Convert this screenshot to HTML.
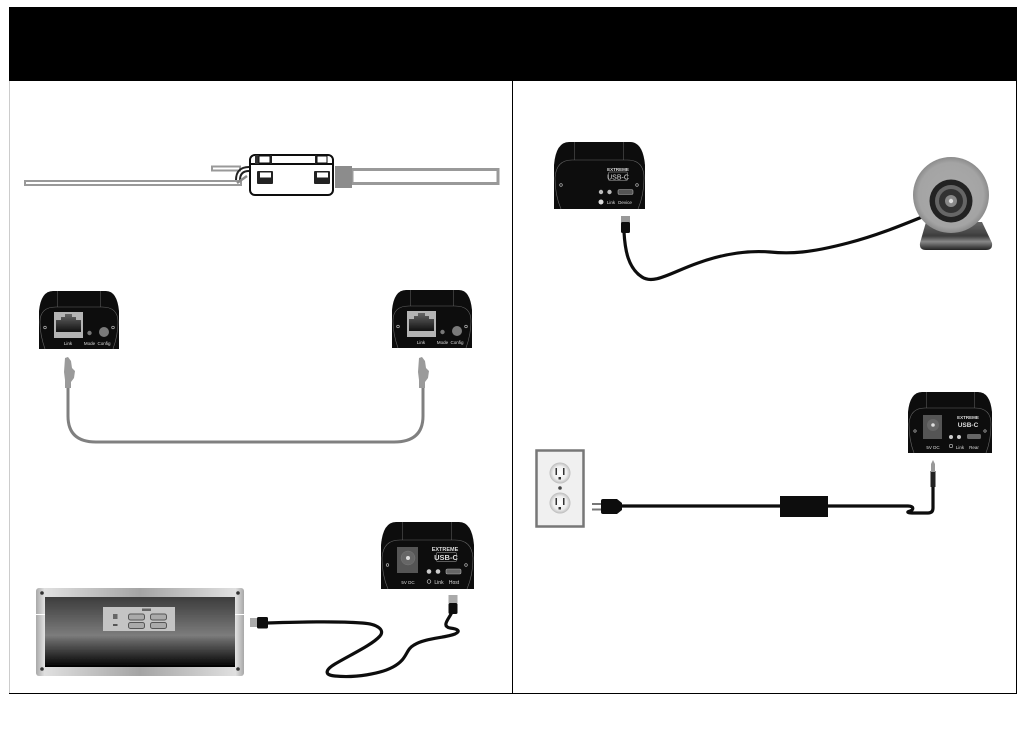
<!DOCTYPE html>
<html>
<head>
<meta charset="utf-8">
<style>
html,body{margin:0;padding:0;background:#fff;width:1026px;height:738px;overflow:hidden}
svg{display:block}
text{font-family:"Liberation Sans",sans-serif;fill:#ddd;text-anchor:middle}
</style>
</head>
<body>
<svg width="1026" height="738" viewBox="0 0 1026 738" xmlns="http://www.w3.org/2000/svg">
<defs>
<filter id="soft" x="0" y="0" width="100%" height="100%"><feGaussianBlur stdDeviation="0.35"/></filter>
<linearGradient id="srv" x1="0" y1="0" x2="0" y2="1">
<stop offset="0" stop-color="#3c3c3c"/><stop offset=".55" stop-color="#7c7c7c"/><stop offset=".62" stop-color="#666"/><stop offset="1" stop-color="#000"/>
</linearGradient>
<linearGradient id="frame" x1="0" y1="0" x2="1" y2="0">
<stop offset="0" stop-color="#a8a8a8"/><stop offset=".04" stop-color="#e0e0e0"/><stop offset=".5" stop-color="#a4a4a4"/><stop offset=".96" stop-color="#e0e0e0"/><stop offset="1" stop-color="#a8a8a8"/>
</linearGradient>
<linearGradient id="base" x1="0" y1="0" x2="0" y2="1">
<stop offset="0" stop-color="#666"/><stop offset=".5" stop-color="#3c3c3c"/><stop offset=".7" stop-color="#888"/><stop offset="1" stop-color="#222"/>
</linearGradient>
<radialGradient id="ball" cx=".5" cy=".5" r=".5">
<stop offset="0" stop-color="#aaa"/><stop offset=".85" stop-color="#a4a4a4"/><stop offset="1" stop-color="#8c8c8c"/>
</radialGradient>
<radialGradient id="sock" cx=".5" cy=".5" r=".5">
<stop offset="0" stop-color="#fff"/><stop offset=".65" stop-color="#eee"/><stop offset="1" stop-color="#bbb"/>
</radialGradient>
<linearGradient id="rj" x1="0" y1="0" x2="0" y2="1">
<stop offset="0" stop-color="#666"/><stop offset="1" stop-color="#111"/>
</linearGradient>
</defs>

<g filter="url(#soft)">
<!-- header and frame -->
<rect x="9" y="7" width="1008" height="74" fill="#000"/>
<rect x="9" y="81" width="1" height="612" fill="#ccc"/>
<rect x="9" y="693" width="1008" height="1" fill="#000"/>
<rect x="512" y="81" width="1" height="612" fill="#000"/>
<rect x="1016" y="81" width="1" height="612" fill="#000"/>

<!-- ferrite -->
<rect x="25" y="181" width="216" height="4" fill="#fff" stroke="#999" stroke-width="2"/>
<rect x="212" y="166.500" width="28" height="4" fill="#fff" stroke="#999" stroke-width="2"/>
<rect x="352" y="169.500" width="146" height="14" fill="#fff" stroke="#999" stroke-width="3"/>
<rect x="335" y="166" width="17" height="22" fill="#8c8c8c"/>
<path d="M249 167C240 167 236 172 236 180M249 171C243 171 240 174 240 180" fill="none" stroke="#222" stroke-width="2"/>
<path d="M237 183L247 176" stroke="#888" stroke-width="2.500"/>
<rect x="250" y="155" width="83" height="40" rx="5" fill="#fff" stroke="#111" stroke-width="2"/>
<line x1="250" y1="164" x2="333" y2="164" stroke="#111" stroke-width="2"/>
<rect x="255" y="155" width="4" height="9" fill="#333"/>
<rect x="259" y="156" width="11" height="7" fill="#fff" stroke="#111"/>
<rect x="270" y="155" width="2" height="9" fill="#222"/>
<rect x="315" y="155" width="2" height="9" fill="#222"/>
<rect x="317" y="156" width="10" height="7" fill="#fff" stroke="#111"/>
<rect x="257" y="171" width="16" height="13" rx="1" fill="#222"/>
<rect x="260" y="172.500" width="11" height="5" fill="#fff"/>
<rect x="314" y="171" width="16" height="13" rx="1" fill="#222"/>
<rect x="317" y="172.500" width="11" height="5" fill="#fff"/>

<!-- RJ45 cable -->
<path d="M68 386V416Q68 442 96 442H394Q423 442 423 416V386" fill="none" stroke="#808080" stroke-width="3"/>
<g fill="#9a9a9a">
<path d="M65 358L68 357L71 361L72 368L75 371L74 378L71 382L71 388H65V380L64 372Z"/>
<path d="M419 358L422 357L425 361L426 368L429 371L428 378L425 382L425 388H419V380L418 372Z"/>
</g>

<!-- RJ45 device left -->
<g>
<path d="M39 349V311Q41 291 53 291H106Q117 291 119 311V349Z" fill="#0d0d0d"/>
<path d="M57.500 291V307M100.500 291V307" stroke="#555" stroke-width=".6"/>
<path d="M45 349Q40 335 40 322Q40 307 56 307H102Q118 307 118 322Q118 335 113 349" fill="none" stroke="#666" stroke-width=".6"/>
<rect x="54" y="312" width="29" height="26" fill="#b4b4b4"/>
<path d="M56 332V320H61V317H65V314H72V317H76V320H81V332Z" fill="url(#rj)"/>
<circle cx="45" cy="327.500" r="1.300" fill="none" stroke="#ccc" stroke-width=".6"/>
<circle cx="113" cy="327.500" r="1.300" fill="none" stroke="#ccc" stroke-width=".6"/>
<circle cx="89.500" cy="333" r="2.200" fill="#777"/>
<circle cx="104" cy="332" r="5" fill="#7a7a7a"/>
<text x="68" y="345" font-size="4.500">Link</text>
<text x="89.500" y="345" font-size="4.500">Mode</text>
<text x="104" y="345" font-size="4.500">Config</text>
</g>

<!-- RJ45 device right -->
<g transform="translate(353 -1)">
<path d="M39 349V311Q41 291 53 291H106Q117 291 119 311V349Z" fill="#0d0d0d"/>
<path d="M57.500 291V307M100.500 291V307" stroke="#555" stroke-width=".6"/>
<path d="M45 349Q40 335 40 322Q40 307 56 307H102Q118 307 118 322Q118 335 113 349" fill="none" stroke="#666" stroke-width=".6"/>
<rect x="54" y="312" width="29" height="26" fill="#b4b4b4"/>
<path d="M56 332V320H61V317H65V314H72V317H76V320H81V332Z" fill="url(#rj)"/>
<circle cx="45" cy="327.500" r="1.300" fill="none" stroke="#ccc" stroke-width=".6"/>
<circle cx="113" cy="327.500" r="1.300" fill="none" stroke="#ccc" stroke-width=".6"/>
<circle cx="89.500" cy="333" r="2.200" fill="#777"/>
<circle cx="104" cy="332" r="5" fill="#7a7a7a"/>
<text x="68" y="345" font-size="4.500">Link</text>
<text x="89.500" y="345" font-size="4.500">Mode</text>
<text x="104" y="345" font-size="4.500">Config</text>
</g>

<!-- server -->
<rect x="36" y="588" width="208" height="88" rx="3" fill="url(#frame)"/>
<rect x="45" y="597" width="190" height="70" fill="url(#srv)"/>
<rect x="36" y="614" width="9" height="1" fill="#fff"/>
<rect x="235" y="614" width="9" height="1" fill="#fff"/>
<g fill="#333">
<circle cx="42" cy="593" r="1.800"/><circle cx="238" cy="593" r="1.800"/>
<circle cx="42" cy="669" r="1.800"/><circle cx="238" cy="669" r="1.800"/>
</g>
<rect x="103" y="607" width="72" height="24" fill="#c4c4c4"/>
<g fill="#aaa" stroke="#555" stroke-width="1">
<rect x="128.500" y="614" width="16" height="6" rx="2"/>
<rect x="150.500" y="614" width="16" height="6" rx="2"/>
<rect x="128.500" y="622.500" width="16" height="6" rx="2"/>
<rect x="150.500" y="622.500" width="16" height="6" rx="2"/>
</g>
<rect x="113" y="614" width="4.500" height="5" fill="#666"/>
<rect x="113" y="624" width="4.500" height="2" fill="#555"/>
<rect x="142" y="608.500" width="9" height="2.500" fill="#666"/>

<!-- USB cable left -->
<path d="M267 623C300 622 335 621 362 623C378 624 385 630 380 636C372 645 350 655 335 664C325 670 324 675 335 676C355 678 380 674 393 667C408 659 405 650 414 645C425 638 445 638 455 634C461 631 458 629 450 628C441 626 449 619 452 612" fill="none" stroke="#111" stroke-width="3.200" stroke-linecap="round"/>
<rect x="250" y="618" width="8" height="9" fill="#aaa"/>
<rect x="257" y="617" width="11" height="11.500" rx="1.500" fill="#111"/>
<rect x="448.500" y="595" width="9" height="8" fill="#aaa"/>
<rect x="448.500" y="603" width="9" height="11" rx="1.500" fill="#111"/>

<!-- host device -->
<g>
<path d="M381 589V545Q383 522 396 522H459Q472 522 474 545V589Z" fill="#0d0d0d"/>
<path d="M402.500 522V540M451.500 522V540" stroke="#555" stroke-width=".6"/>
<path d="M388 589Q382 575 382 558Q383 540 400 540H455Q472 540 473 558Q473 575 467 589" fill="none" stroke="#666" stroke-width=".6"/>
<rect x="397" y="547" width="21" height="26" fill="#555"/>
<circle cx="408" cy="558" r="7" fill="#666" stroke="#777" stroke-width=".5"/>
<circle cx="408" cy="558" r="2" fill="#ddd"/>
<text x="445" y="551" font-size="5.500" font-weight="bold">EXTREME</text>
<rect x="436.500" y="552.500" width="20" height="9" rx="1" fill="none" stroke="#aaa" stroke-width=".5"/>
<text x="446" y="560" font-size="7.500" font-weight="bold">USB-C</text>
<circle cx="429" cy="571.500" r="2.300" fill="#ccc"/>
<circle cx="438" cy="571.500" r="2.300" fill="#ccc"/>
<rect x="446" y="569" width="15" height="5" rx="1.500" fill="#666" stroke="#aaa" stroke-width=".6"/>
<circle cx="387.500" cy="565" r="1.300" fill="none" stroke="#ccc" stroke-width=".6"/>
<circle cx="466" cy="565" r="1.300" fill="none" stroke="#ccc" stroke-width=".6"/>
<text x="408" y="584" font-size="4.500">5V DC</text>
<circle cx="429" cy="581.500" r="1.800" fill="none" stroke="#ccc" stroke-width=".7"/>
<text x="439" y="584" font-size="5">Link</text>
<text x="454" y="584" font-size="5">Host</text>
</g>

<!-- device top right -->
<g>
<path d="M554 209V165Q556 142 569 142H630Q643 142 645 165V209Z" fill="#0d0d0d"/>
<path d="M574.500 142V160M623.500 142V160" stroke="#555" stroke-width=".6"/>
<path d="M561 209Q555 195 555 178Q556 160 572 160H627Q644 160 644 178Q644 195 638 209" fill="none" stroke="#666" stroke-width=".6"/>
<text x="618" y="171" font-size="4.500" font-weight="bold">EXTREME</text>
<rect x="608.500" y="172" width="19" height="8.500" rx="1" fill="none" stroke="#aaa" stroke-width=".5"/>
<text x="618" y="179.500" font-size="7">USB-C</text>
<circle cx="601" cy="192" r="2.200" fill="#bbb"/>
<circle cx="609.500" cy="192" r="2.200" fill="#bbb"/>
<rect x="618" y="189.500" width="15" height="5" rx="1.500" fill="#555" stroke="#aaa" stroke-width=".6"/>
<circle cx="561" cy="185" r="1.300" fill="none" stroke="#ccc" stroke-width=".6"/>
<circle cx="637" cy="185" r="1.300" fill="none" stroke="#ccc" stroke-width=".6"/>
<circle cx="601" cy="202" r="2.500" fill="#ddd"/>
<text x="611" y="204" font-size="4.500">Link</text>
<text x="625" y="204" font-size="4.500">Device</text>
</g>

<!-- webcam cable -->
<path d="M624 232C625 250 628 268 642 277C654 285 672 272 698 263C720 255 745 250 770 252C790 254 810 253 848 243C875 236 900 226 922 217" fill="none" stroke="#111" stroke-width="3.200"/>
<rect x="621" y="216" width="9" height="7" fill="#999"/>
<rect x="621" y="222" width="9" height="11" rx="1.500" fill="#111"/>

<!-- webcam -->
<path d="M926 222H982L992 243Q993 250 986 250H926Q919 250 920 243Z" fill="url(#base)"/>
<circle cx="951" cy="195" r="38" fill="url(#ball)"/>
<circle cx="951" cy="201" r="21.500" fill="#222"/>
<circle cx="951" cy="201" r="16" fill="#666"/>
<circle cx="951" cy="201" r="12" fill="#333"/>
<circle cx="951" cy="201" r="6" fill="#888"/>
<circle cx="951" cy="201" r="2.200" fill="#ddd"/>

<!-- power device -->
<g>
<path d="M908 453V412Q910 392 922 392H978Q990 392 992 412V453Z" fill="#0d0d0d"/>
<path d="M926.500 392V408M974.500 392V408" stroke="#555" stroke-width=".6"/>
<path d="M914 453Q909 440 909 424Q910 408 925 408H975Q991 408 991 424Q991 440 986 453" fill="none" stroke="#666" stroke-width=".6"/>
<rect x="923" y="415" width="19" height="24" fill="#555"/>
<circle cx="933" cy="425" r="6" fill="#666"/>
<circle cx="933" cy="425" r="1.800" fill="#ddd"/>
<text x="968" y="419" font-size="4.500" font-weight="bold">EXTREME</text>
<text x="968" y="427" font-size="6.500" font-weight="bold">USB-C</text>
<circle cx="951" cy="437" r="2" fill="#ccc"/>
<circle cx="959" cy="437" r="2" fill="#ccc"/>
<rect x="967" y="434" width="14" height="5" rx="1.500" fill="#666"/>
<circle cx="915" cy="431" r="1.200" fill="none" stroke="#ccc" stroke-width=".6"/>
<circle cx="985" cy="431" r="1.200" fill="none" stroke="#ccc" stroke-width=".6"/>
<text x="933" y="449" font-size="4.500">5V DC</text>
<circle cx="951" cy="446" r="1.700" fill="none" stroke="#ccc" stroke-width=".6"/>
<text x="960" y="449" font-size="4.500">Link</text>
<text x="974" y="449" font-size="4.500">Rear</text>
</g>

<!-- outlet -->
<rect x="536.500" y="450.500" width="47" height="76" fill="#f0f0f0" stroke="#777" stroke-width="2.500"/>
<circle cx="560" cy="473" r="10.500" fill="url(#sock)"/>
<circle cx="560" cy="503" r="10.500" fill="url(#sock)"/>
<circle cx="560" cy="488" r="1.800" fill="#444"/>
<g fill="#333">
<rect x="555.500" y="468" width="1.500" height="7"/><rect x="563" y="468" width="1.500" height="7"/>
<rect x="558.500" y="477" width="2.500" height="2.500"/>
<rect x="555.500" y="498" width="1.500" height="7"/><rect x="563" y="498" width="1.500" height="7"/>
<rect x="558.500" y="507" width="2.500" height="2.500"/>
</g>

<!-- power cable -->
<rect x="592" y="503" width="10" height="2" fill="#777"/>
<rect x="592" y="508.500" width="10" height="2" fill="#777"/>
<path d="M601 501Q601 499 603 499H617L622 503V510L617 514H603Q601 514 601 512Z" fill="#111"/>
<line x1="620" y1="506" x2="782" y2="506" stroke="#111" stroke-width="3.200"/>
<rect x="780" y="496" width="48" height="21" fill="#111"/>
<path d="M828 506H908C914 506 914 510 910 511C906 512 908 513 912 513H928Q933 513 933 508V486" fill="none" stroke="#111" stroke-width="3.200"/>
<rect x="930.500" y="471" width="5" height="16" fill="#222"/>
<path d="M931 472V464L933 460L935 464V472Z" fill="#999"/>
</g>
</svg>
</body>
</html>
